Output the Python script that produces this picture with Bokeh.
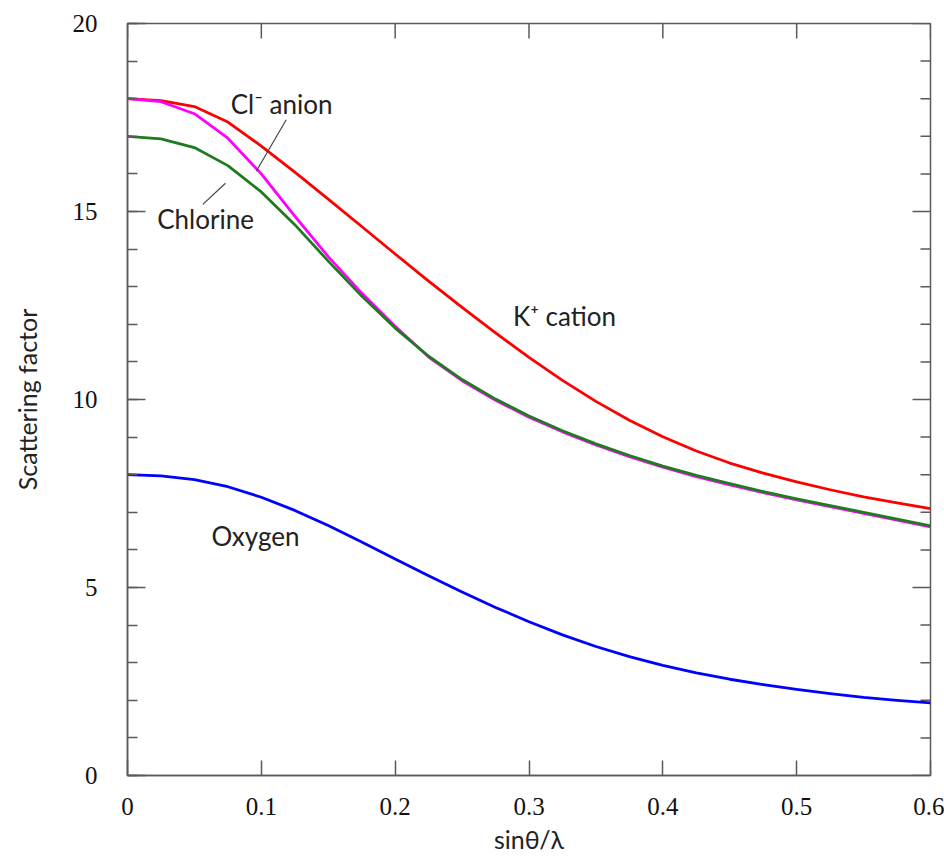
import math
from bokeh.plotting import figure
from bokeh.models import Range1d, FixedTicker, Label
from bokeh.embed import file_html
from bokeh.resources import INLINE

# sin(theta)/lambda
s = [0.0, 0.025, 0.05, 0.075, 0.1, 0.125, 0.15, 0.175, 0.2, 0.225, 0.25, 0.275,
     0.3, 0.325, 0.35, 0.375, 0.4, 0.425, 0.45, 0.475, 0.5, 0.525, 0.55, 0.575, 0.6]

k_cation = [18.0, 17.95, 17.79, 17.38, 16.74, 16.05, 15.33, 14.6, 13.87, 13.15, 12.45, 11.77,
            11.12, 10.51, 9.95, 9.45, 9.01, 8.63, 8.31, 8.04, 7.81, 7.6, 7.41, 7.25, 7.1]
cl_anion = [18.0, 17.92, 17.6, 16.95, 16.0, 14.88, 13.8, 12.83, 11.95, 11.13, 10.5, 9.98,
            9.53, 9.14, 8.79, 8.48, 8.2, 7.95, 7.73, 7.52, 7.33, 7.15, 6.97, 6.79, 6.61]
chlorine = [17.0, 16.93, 16.7, 16.22, 15.52, 14.65, 13.68, 12.75, 11.9, 11.15, 10.53, 10.01,
            9.56, 9.17, 8.82, 8.51, 8.23, 7.98, 7.76, 7.55, 7.36, 7.18, 7.0, 6.82, 6.64]
oxygen = [8.0, 7.97, 7.87, 7.68, 7.4, 7.05, 6.65, 6.21, 5.76, 5.31, 4.88, 4.47,
          4.09, 3.74, 3.43, 3.16, 2.93, 2.73, 2.56, 2.42, 2.29, 2.18, 2.08, 2.0, 1.93]

x_ticks = [0, 0.1, 0.2, 0.3, 0.4, 0.5, 0.6]
y_ticks = [0, 5, 10, 15, 20]
y_minor = list(range(0, 21))

# annotation texts and leader lines
label_texts = ["Cl\u207b anion", "Chlorine", "K\u207a cation", "Oxygen"]
label_x = [0.1151, 0.0583, 0.3265, 0.0956]
label_y = [17.85, 14.81, 12.23, 6.38]
leader_x0 = [0.1186, 0.0732]
leader_y0 = [17.44, 15.75]
leader_x1 = [0.0962, 0.0563]
leader_y1 = [16.07, 15.19]

AX = "#5a5a5a"
X_MIN, X_MAX, Y_MIN, Y_MAX = 0, 0.6, 0, 20
p = figure(width=944, height=861, output_backend="svg", toolbar_location=None,
           x_range=Range1d(X_MIN, X_MAX), y_range=Range1d(Y_MIN, Y_MAX),
           min_border_left=127, min_border_right=14, min_border_top=23, min_border_bottom=86)
p.grid.visible = False
p.outline_line_color = AX
p.outline_line_width = 1.5
p.background_fill_color = "white"
p.border_fill_color = "white"

xa = p.xaxis[0]
ya = p.yaxis[0]
xa.ticker = FixedTicker(ticks=x_ticks)
ya.ticker = FixedTicker(ticks=y_ticks, minor_ticks=y_minor)
xa.major_label_overrides = {0: "0"}
for ax in (xa, ya):
    ax.axis_line_color = AX
    ax.axis_line_width = 1.5
    ax.major_tick_line_color = AX
    ax.major_tick_line_width = 1.5
    ax.minor_tick_line_color = AX
    ax.minor_tick_line_width = 1.5
    ax.major_tick_out = 0
    ax.minor_tick_out = 0
    ax.major_label_text_font = "Liberation Serif"
    ax.major_label_text_font_size = "25px"
    ax.major_label_text_color = "#111111"
    ax.axis_label_text_font = "Lato"
    ax.axis_label_text_font_style = "normal"
    ax.axis_label_text_font_size = "25px"
    ax.axis_label_text_color = "#222222"
xa.major_tick_in = 15
xa.minor_tick_line_color = None
ya.major_tick_in = 18
ya.minor_tick_in = 10
xa.major_label_standoff = 22
ya.major_label_standoff = 30
xa.axis_label = "sin\u03b8/\u03bb"
ya.axis_label = "Scattering factor"
xa.axis_label_standoff = 6
ya.axis_label_standoff = 28

# inward tick marks on the top and right edges of the frame
p.ray(x=x_ticks, y=[Y_MAX] * len(x_ticks), length=15, length_units="screen",
      angle=-math.pi / 2, color=AX, line_width=1.5)
p.ray(x=[X_MAX] * len(y_ticks), y=y_ticks, length=18, length_units="screen",
      angle=math.pi, color=AX, line_width=1.5)
y_minor_only = [v for v in y_minor if v not in y_ticks]
p.ray(x=[X_MAX] * len(y_minor_only), y=y_minor_only, length=10, length_units="screen",
      angle=math.pi, color=AX, line_width=1.5)

lw = 2.8
p.line(s, k_cation, color="#ff0000", line_width=lw, line_join="round")
p.line(s, cl_anion, color="#ff00ff", line_width=lw, line_join="round")
p.line(s, chlorine, color="#1e7b1e", line_width=lw, line_join="round")
p.line(s, oxygen, color="#0000ff", line_width=lw, line_join="round")

p.segment(x0=leader_x0, y0=leader_y0, x1=leader_x1, y1=leader_y1,
          color="#444444", line_width=1.2)

for t, lx, ly in zip(label_texts, label_x, label_y):
    p.add_layout(Label(x=lx, y=ly, text=t, text_font="Lato", text_font_size="26px",
                       text_color="#222222", text_align="center", text_baseline="middle"))

open("out.html", "w").write(file_html(p, INLINE))
